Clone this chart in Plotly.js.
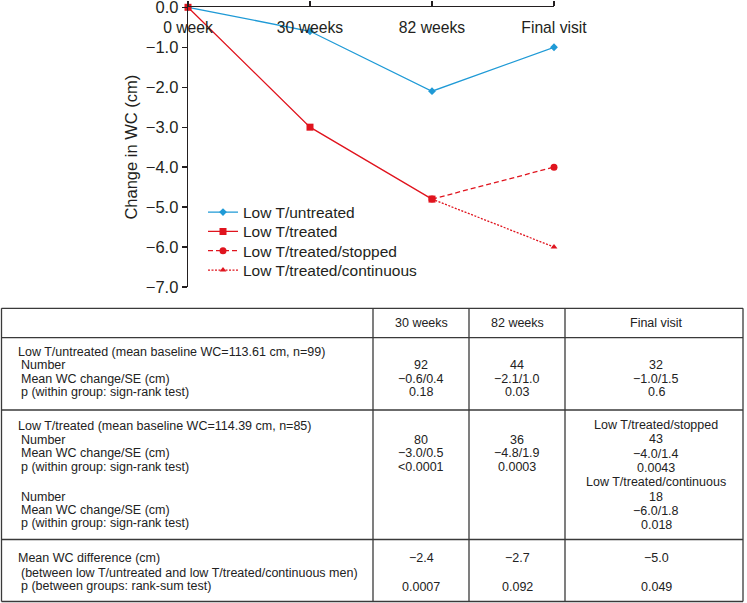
<!DOCTYPE html>
<html>
<head>
<meta charset="utf-8">
<script src="https://cdn.plot.ly/plotly-3.0.1.min.js"></script>
<style>html,body{margin:0;padding:0;background:#fff;}#chart{width:747px;height:603px;}</style>
</head>
<body>
<div id="chart"></div>
<script>
// ---------- data ----------
const visits = ["0 week", "30 weeks", "82 weeks", "Final visit"];
const untreatedY = [0, -0.6, -2.1, -1.0];
const treatedY = [0, -3.0, -4.8];
const stoppedX = ["82 weeks", "Final visit"];
const stoppedY = [-4.8, -4.0];
const continuousX = ["82 weeks", "Final visit"];
const continuousY = [-4.8, -6.0];
const seriesNames = ["Low T/untreated", "Low T/treated", "Low T/treated/stopped", "Low T/treated/continuous"];

// table contents
const tableHeader = ["30 weeks", "82 weeks", "Final visit"];
const untreatedTitle = "Low T/untreated (mean baseline WC=113.61 cm, n=99)";
const untreatedRowLabels = ["Number", "Mean WC change/SE (cm)", "p (within group: sign-rank test)"];
const untreated30 = ["92", "\u22120.6/0.4", "0.18"];
const untreated82 = ["44", "\u22122.1/1.0", "0.03"];
const untreatedFinal = ["32", "\u22121.0/1.5", "0.6"];
const treatedTitle = "Low T/treated (mean baseline WC=114.39 cm, n=85)";
const treatedRowLabels = ["Number", "Mean WC change/SE (cm)", "p (within group: sign-rank test)",
                          "Number", "Mean WC change/SE (cm)", "p (within group: sign-rank test)"];
const treated30 = ["80", "\u22123.0/0.5", "<0.0001"];
const treated82 = ["36", "\u22124.8/1.9", "0.0003"];
const treatedFinal = ["Low T/treated/stopped", "43", "\u22124.0/1.4", "0.0043",
                      "Low T/treated/continuous", "18", "\u22126.0/1.8", "0.018"];
const diffLabels = ["Mean WC difference (cm)", "(between low T/untreated and low T/treated/continuous men)", "p (between groups: rank-sum test)"];
const diff30 = ["\u22122.4", "0.0007"];
const diff82 = ["\u22122.7", "0.092"];
const diffFinal = ["\u22125.0", "0.049"];

// ---------- styling ----------
const W = 747, H = 603;
const FONT = "Liberation Sans, Arial, sans-serif";
const BLUE = "#1f9ad6";
const RED = "#e0141e";
const INK = "#231f20";
const px = x => x / W;
const py = y => 1 - y / H;

const traces = [
  {x: visits, y: untreatedY, name: seriesNames[0], mode: "lines+markers", legend: "legend",
   line: {color: BLUE, width: 1.3}, marker: {symbol: "diamond", size: 6, color: BLUE}, cliponaxis: false},
  {x: stoppedX, y: stoppedY, name: seriesNames[2], mode: "lines+markers", legend: "legend3",
   line: {color: RED, width: 1.3, dash: "5px,3px"}, marker: {symbol: "circle", size: 7, color: RED}, cliponaxis: false},
  {x: continuousX, y: continuousY, name: seriesNames[3], mode: "lines+markers", legend: "legend4",
   line: {color: RED, width: 1.3, dash: "2px,1.5px"}, marker: {symbol: "triangle-up", size: 6, color: RED}, cliponaxis: false},
  {x: visits.slice(0, 3), y: treatedY, name: seriesNames[1], mode: "lines+markers", legend: "legend2",
   line: {color: RED, width: 1.3}, marker: {symbol: "square", size: 7, color: RED}, cliponaxis: false}
];

// ---------- table geometry ----------
const hLines = [308.3, 337.7, 410, 539.5, 601.5];
const vLines = [1.5, 373, 469, 565, 743];
const colCenters = [421, 517, 656];
const shapes = [];
hLines.forEach(y => shapes.push({type: "line", xref: "paper", yref: "paper",
  x0: px(vLines[0]), x1: px(vLines[4]), y0: py(y), y1: py(y), line: {color: "#3a3a3a", width: 1.3}}));
vLines.forEach(x => shapes.push({type: "line", xref: "paper", yref: "paper",
  x0: px(x), x1: px(x), y0: py(hLines[0]), y1: py(hLines[4]), line: {color: "#3a3a3a", width: 1.3}}));

const annotations = [];
function txt(t, x, y, anchor) {
  annotations.push({text: t, xref: "paper", yref: "paper", x: px(x), y: py(y),
    xanchor: anchor || "center", yanchor: "middle", showarrow: false, borderpad: 0,
    font: {family: FONT, size: 12.5, color: "#222"}});
}
// header
tableHeader.forEach((t, i) => txt(t, colCenters[i], 323));
// row 1
txt(untreatedTitle, 16.5, 352, "left");
const r1y = [365.3, 378.5, 391.7];
untreatedRowLabels.forEach((t, i) => txt(t, 20, r1y[i], "left"));
[untreated30, untreated82, untreatedFinal].forEach((col, c) => col.forEach((t, i) => txt(t, colCenters[c], r1y[i])));
// row 2
txt(treatedTitle, 16.5, 425.7, "left");
const r2y = [440, 453.4, 466.8, 496.7, 510, 523.4];
treatedRowLabels.forEach((t, i) => txt(t, 20, r2y[i], "left"));
[treated30, treated82].forEach((col, c) => col.forEach((t, i) => txt(t, colCenters[c], r2y[i])));
treatedFinal.forEach((t, i) => txt(t, colCenters[2], 425 + 14.3 * i));
// row 3
const r3y = [558.3, 572.5, 585.8];
diffLabels.forEach((t, i) => txt(t, i === 0 ? 16.5 : 20, r3y[i], "left"));
[diff30, diff82, diffFinal].forEach((col, c) => col.forEach((t, i) => txt(t, colCenters[c], [558.3, 586.5][i])));

function legendAt(topPx) {
  return {x: px(203), y: py(topPx), xanchor: "left", yanchor: "top",
    bgcolor: "rgba(0,0,0,0)", font: {family: FONT, size: 15.5, color: INK}};
}

const layout = {
  width: W, height: H,
  margin: {l: 0, r: 0, t: 0, b: 0},
  paper_bgcolor: "#fff", plot_bgcolor: "rgba(0,0,0,0)",
  font: {family: FONT, color: INK, size: 15.5},
  showlegend: true,
  legend: legendAt(195.5),
  legend2: legendAt(214.8),
  legend3: legendAt(234.1),
  legend4: legendAt(253.5),
  xaxis: {
    type: "category", categoryorder: "array", categoryarray: visits,
    domain: [px(188), px(554)], range: [0, 3],
    side: "top", anchor: "y",
    showline: true, linecolor: INK, linewidth: 1.3,
    ticks: "outside", ticklen: 5, tickwidth: 1.3, tickcolor: INK,
    ticklabelposition: "inside", ticklabeloverflow: "allow", ticklabelstandoff: 15,
    showgrid: false, zeroline: false, fixedrange: true,
    tickfont: {family: FONT, size: 15.7, color: INK}
  },
  yaxis: {
    domain: [py(287), py(7.3)], range: [-7, 0],
    tickmode: "linear", tick0: 0, dtick: 1, tickformat: ".1f",
    showline: true, linecolor: INK, linewidth: 1.3,
    ticks: "outside", ticklen: 5, tickwidth: 1.3, tickcolor: INK,
    ticklabeloverflow: "allow",
    showgrid: false, zeroline: false, fixedrange: true,
    tickfont: {family: FONT, size: 16.5, color: INK},
    title: {text: "Change in WC (cm)", font: {family: FONT, size: 16.5, color: INK}, standoff: 4}
  },
  shapes: shapes,
  annotations: annotations
};

Plotly.newPlot("chart", traces, layout, {displayModeBar: false, staticPlot: true});
</script>
</body>
</html>
